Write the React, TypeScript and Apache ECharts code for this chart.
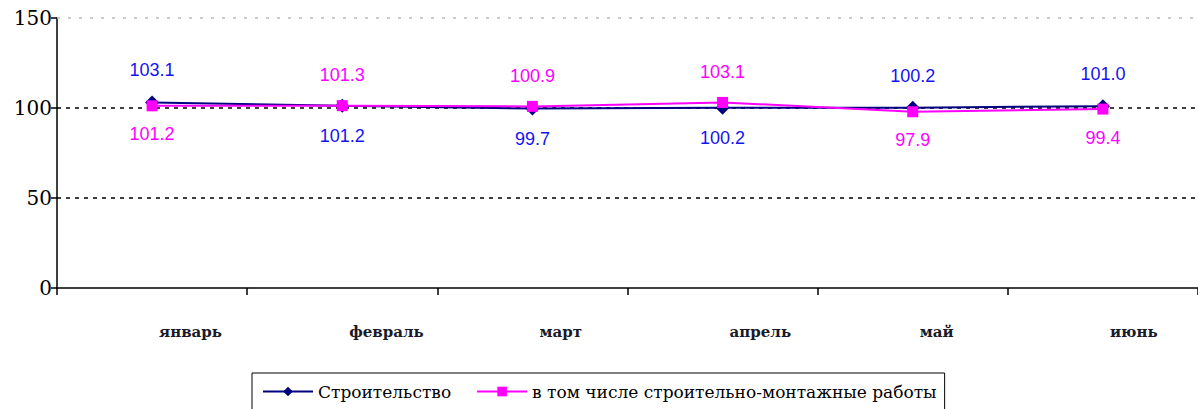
import React, { useEffect, useRef } from "react";
import * as echarts from "echarts";

const categories = ["январь", "февраль", "март", "апрель", "май", "июнь"];
const construction = [103.1, 101.2, 99.7, 100.2, 100.2, 101.0];
const installation = [101.2, 101.3, 100.9, 103.1, 97.9, 99.4];
const yTicks = { min: 0, max: 150, interval: 50 };
const seriesNames = ["Строительство", "в том числе строительно-монтажные работы"];

const NAVY = "#000080";
const PINK = "#ff00ff";
const SERIF = "'DejaVu Serif', 'Liberation Serif', serif";

function buildData(values: number[], other: number[], color: string) {
  return values.map((v, i) => {
    const above = v >= other[i] && !(v === other[i] && color === PINK);
    return {
      value: v,
      label: {
        position: above ? "top" : "bottom",
        distance: above ? 16 : 14,
      },
    };
  });
}

export default function App() {
  const ref = useRef<HTMLDivElement>(null);
  useEffect(() => {
    if (!ref.current) return;
    const chart = echarts.init(ref.current, null, { renderer: "svg" });
    const labelBase = {
      show: true,
      fontFamily: "'Liberation Sans', Arial, sans-serif",
      fontSize: 18,
      formatter: (p: any) => Number(p.value).toFixed(1),
    };
    chart.setOption({
      animation: false,
      backgroundColor: "#fff",
      grid: { left: 57, right: 0, top: 18, height: 270 },
      legend: {
        left: 252,
        top: 373,
        padding: [10, 8, 12, 10],
        itemGap: 25,
        itemWidth: 50,
        itemHeight: 12,
        borderColor: "#000",
        borderWidth: 1,
        borderRadius: 0,
        textStyle: { fontFamily: SERIF, fontSize: 17, color: "#000" },
        data: seriesNames,
      },
      xAxis: {
        type: "category",
        data: categories,
        boundaryGap: true,
        axisLine: { lineStyle: { color: "#000", width: 1.5 } },
        axisTick: { show: true, length: 7, lineStyle: { color: "#000", width: 1.5 } },
        axisLabel: {
          align: "left",
          margin: 36,
          padding: [0, 0, 0, 7],
          fontFamily: SERIF,
          fontWeight: "bold",
          fontSize: 15,
          color: "#1a1a2a",
        },
        splitLine: { show: false },
      },
      yAxis: {
        type: "value",
        min: yTicks.min,
        max: yTicks.max,
        interval: yTicks.interval,
        axisLine: { show: true, lineStyle: { color: "#000", width: 1.5 } },
        axisTick: { show: true, length: 6, lineStyle: { color: "#000", width: 1.5 } },
        axisLabel: {
          margin: 5,
          fontFamily: SERIF,
          fontSize: 20,
          color: "#000",
        },
        splitLine: {
          show: true,
          lineStyle: {
            color: ["transparent", "#000", "#000", "transparent"],
            type: [4, 5],
            width: 1.5,
          },
        },
      },
      series: [
        {
          name: seriesNames[0],
          type: "line",
          data: buildData(construction, installation, NAVY),
          symbol: "diamond",
          symbolSize: 14,
          lineStyle: { color: NAVY, width: 2 },
          itemStyle: { color: NAVY },
          label: { ...labelBase, color: "#1414f0" },
          z: 2,
        },
        {
          name: seriesNames[1],
          type: "line",
          data: buildData(installation, construction, PINK),
          symbol: "rect",
          symbolSize: 11,
          lineStyle: { color: PINK, width: 2 },
          itemStyle: { color: PINK },
          label: { ...labelBase, color: PINK },
          z: 3,
          markLine: {
            silent: true,
            symbol: "none",
            label: { show: false },
            lineStyle: { color: "#bbb", type: [3, 8], width: 1.5 },
            data: [{ yAxis: yTicks.max }],
          },
        },
      ],
    });
    return () => chart.dispose();
  }, []);
  return (
    <div
      ref={ref}
      style={{ position: "fixed", left: 0, top: 0, width: 1198, height: 409, background: "#fff" }}
    />
  );
}
